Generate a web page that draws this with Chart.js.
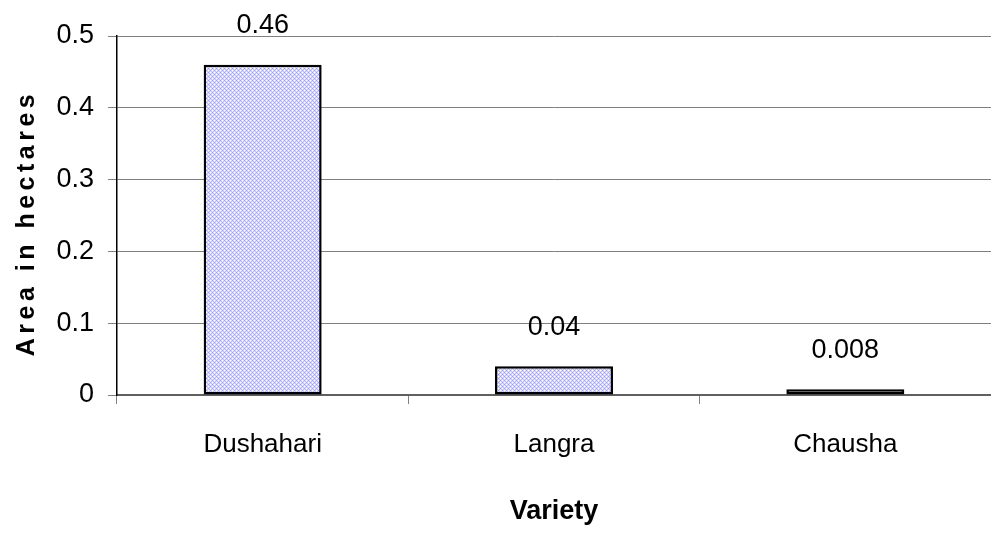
<!DOCTYPE html>
<html><head><meta charset="utf-8">
<script src="https://cdn.jsdelivr.net/npm/chart.js@4/dist/chart.umd.min.js"></script>
<style>html,body{margin:0;padding:0;background:#fff}#wrap{width:991px;height:537px}</style>
</head><body><div id="wrap"><canvas id="c" width="991" height="537"></canvas></div>
<script>
const categories = ['Dushahari', 'Langra', 'Chausha'];
const areaValues = [0.46, 0.04, 0.008];
const valueLabels = ['0.46', '0.04', '0.008'];
const yTicks = [0, 0.1, 0.2, 0.3, 0.4, 0.5];
const xTitle = 'Variety';
const yTitle = 'Area in hectares';

const FONT = '"Liberation Sans", Arial, sans-serif';

function makePattern(ctx) {
  const p = document.createElement('canvas');
  p.width = 4; p.height = 4;
  const g = p.getContext('2d');
  g.fillStyle = '#dcdcfc';
  g.fillRect(0, 0, 4, 4);
  g.fillStyle = '#9c9cf0';
  g.fillRect(0, 0, 1, 1); g.fillRect(2, 2, 1, 1);
  g.fillStyle = '#bcbcf8';
  g.fillRect(1, 1, 1, 1); g.fillRect(3, 3, 1, 1); g.fillRect(1, 3, 1, 1); g.fillRect(3, 1, 1, 1);
  g.fillStyle = '#ffffff';
  g.fillRect(2, 0, 1, 1); g.fillRect(0, 2, 1, 1);
  return ctx.createPattern(p, 'repeat');
}

const ctx = document.getElementById('c').getContext('2d');

const labelPlugin = {
  id: 'valueLabels',
  afterDatasetsDraw(chart) {
    const c = chart.ctx;
    const meta = chart.getDatasetMeta(0);
    c.save();
    c.font = '27px ' + FONT;
    c.fillStyle = '#000';
    c.textAlign = 'center';
    c.textBaseline = 'middle';
    meta.data.forEach((bar, i) => {
      c.fillText(valueLabels[i], bar.x, bar.y - 39);
    });
    // rotated y-axis title with letter spacing
    c.translate(27, 225);
    c.rotate(-Math.PI / 2);
    c.font = 'bold 25px ' + FONT;
    try { c.letterSpacing = '4.5px'; } catch (e) {}
    c.fillText(yTitle, 2, 0);
    c.restore();
  }
};

new Chart(ctx, {
  type: 'bar',
  data: {
    labels: categories,
    datasets: [{
      data: areaValues,
      backgroundColor: makePattern(ctx),
      borderColor: '#000',
      borderWidth: 2.5,
      borderSkipped: false,
      barPercentage: 0.405,
      categoryPercentage: 1.0
    }]
  },
  plugins: [labelPlugin],
  options: {
    responsive: false,
    animation: false,
    events: [],
    layout: { padding: { top: 36, right: 0, left: 0, bottom: 0 } },
    plugins: { legend: { display: false }, tooltip: { enabled: false } },
    scales: {
      x: {
        grid: { display: true, drawOnChartArea: false, offset: true, color: '#808080', tickLength: 9, lineWidth: 1 },
        border: { display: true, color: '#606060', width: 2 },
        ticks: { font: { family: FONT, size: 26 }, color: '#000', padding: 25 },
        title: { display: true, text: xTitle, font: { family: FONT, size: 27, weight: 'bold' }, color: '#000', padding: { top: 4, bottom: 9 } },
        afterFit(s) { s.height = 142; }
      },
      y: {
        min: 0, max: 0.5,
        afterBuildTicks(s) { s.ticks = yTicks.map(v => ({ value: v })); },
        grid: { color: '#808080', tickLength: 9, lineWidth: 1 },
        border: { display: true, color: '#000', width: 1.5 },
        ticks: { font: { family: FONT, size: 27 }, color: '#000', padding: 14 },
        title: { display: false },
        afterFit(s) { s.width = 117; }
      }
    }
  }
});
</script></body></html>
